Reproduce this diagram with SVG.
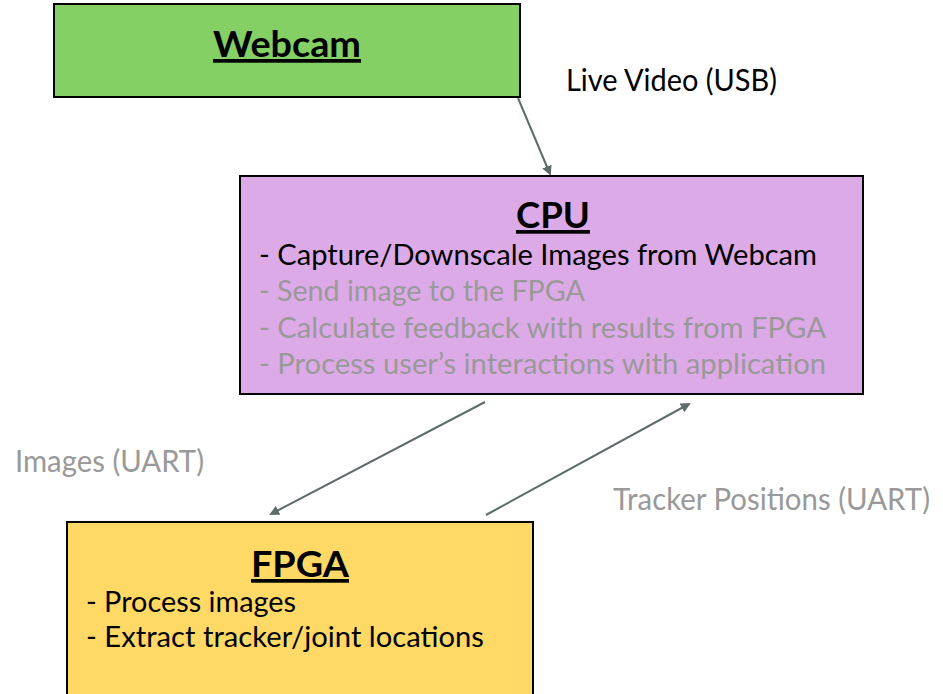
<svg xmlns="http://www.w3.org/2000/svg" width="943" height="694" viewBox="0 0 943 694">
<style>
.box{stroke:#000;stroke-width:2}
text{font-family:Lato,"Liberation Sans",sans-serif}
.title{font-size:37px;font-weight:bold;text-decoration:underline;text-anchor:middle;fill:#000}
.item{font-size:29.5px;fill:#000}
.dim{fill:#999999}
.lbl{font-size:30px}
.conn{stroke:#5f6b6b;stroke-width:2;fill:none;marker-end:url(#ah)}
</style>
<defs>
<marker id="ah" markerWidth="10" markerHeight="10" refX="8" refY="5" orient="auto" markerUnits="userSpaceOnUse" viewBox="0 0 10 10">
<path d="M0,0 L10,5 L0,10 z" fill="#5f6b6b"/>
</marker>
</defs>
<rect width="943" height="694" fill="#fff"/>
<g id="connectors">
<line class="conn" x1="518" y1="98" x2="550" y2="174"/>
<line class="conn" x1="485" y1="402" x2="271" y2="514"/>
<line class="conn" x1="486" y1="515" x2="689" y2="404"/>
</g>
<g id="webcam">
<rect class="box" x="54" y="4" width="466" height="93" fill="#84d065"/>
<text class="title" x="287" y="57" textLength="148" lengthAdjust="spacingAndGlyphs">Webcam</text>
</g>
<g id="cpu">
<rect class="box" x="240" y="176" width="623" height="218" fill="#ddaae8"/>
<text class="title" x="553" y="228" textLength="74" lengthAdjust="spacingAndGlyphs">CPU</text>
<text class="item" x="259" y="264.5" textLength="558" lengthAdjust="spacingAndGlyphs">- Capture/Downscale Images from Webcam</text>
<text class="item dim" x="259" y="301" textLength="326" lengthAdjust="spacingAndGlyphs">- Send image to the FPGA</text>
<text class="item dim" x="259" y="337.5" textLength="567" lengthAdjust="spacingAndGlyphs">- Calculate feedback with results from FPGA</text>
<text class="item dim" x="259" y="373.5" textLength="567" lengthAdjust="spacingAndGlyphs">- Process user’s interactions with application</text>
</g>
<g id="fpga">
<rect class="box" x="67" y="522" width="466" height="190" fill="#ffd966"/>
<text class="title" x="300" y="577" textLength="98" lengthAdjust="spacingAndGlyphs">FPGA</text>
<text class="item" x="86" y="611.5" textLength="210" lengthAdjust="spacingAndGlyphs">- Process images</text>
<text class="item" x="86" y="647" textLength="398" lengthAdjust="spacingAndGlyphs">- Extract tracker/joint locations</text>
</g>
<g id="labels">
<text class="lbl" x="566" y="91" fill="#000" textLength="211" lengthAdjust="spacingAndGlyphs">Live Video (USB)</text>
<text class="lbl dim" x="15" y="472" textLength="189" lengthAdjust="spacingAndGlyphs">Images (UART)</text>
<text class="lbl dim" x="613" y="510" textLength="317" lengthAdjust="spacingAndGlyphs">Tracker Positions (UART)</text>
</g>
</svg>
